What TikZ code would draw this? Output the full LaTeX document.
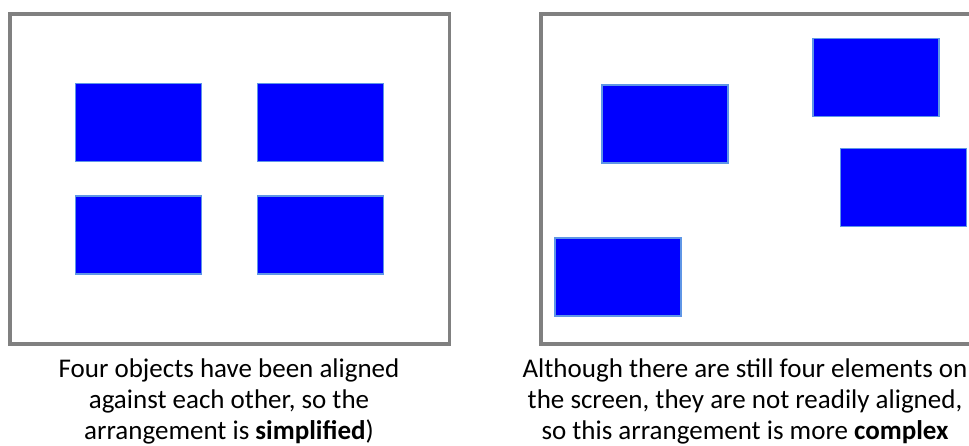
\documentclass[tikz,border=0pt]{standalone}
\usepackage{fontspec}
\setmainfont{Carlito}
\definecolor{frgray}{RGB}{128, 128, 128}
\definecolor{objblue}{RGB}{0, 0, 255}
\definecolor{objedge}{RGB}{95, 150, 230}
\usetikzlibrary{positioning}

\begin{document}
\begin{tikzpicture}[
  x=1pt, y=-1pt,
  frame/.style={draw=frgray, line width=3.5pt},
  blok/.style={draw=objedge, fill=objblue, line width=1.5pt, minimum width=126pt, minimum height=78pt, inner sep=0pt},
  caption/.style={align=center, inner sep=0pt, anchor=north, font=\fontsize{27}{31}\selectfont}
]
  \clip (0, 0) rectangle (969, 446);

  % left screen: aligned objects
  \draw[frame] (10, 14) rectangle (449.5, 344);
  \node[blok] (la) at (138.5, 122.5) {};
  \node[blok] (lb) at (320.5, 122.5) {};
  \node[blok] (lc) at (138.5, 235) {};
  \node[blok] (ld) at (320.5, 235) {};

  % right screen: scattered objects
  \draw[frame] (541, 14) rectangle (1000, 344);
  \node[blok] (ra) at (665, 124) {};
  \node[blok] (rb) at (876, 77.5) {};
  \node[blok] (rc) at (903.5, 187.5) {};
  \node[blok] (rd) at (618, 277) {};

  \node[caption] (lcap) at (229, 358.5) {
    Four objects have been aligned\\
    against each other, so the\\
    arrangement is \textbf{simplified})
  };
  \node[caption] (rcap) at (745, 358.5) {
    Although there are still four elements on\\
    the screen, they are not readily aligned,\\
    so this arrangement is more \textbf{complex}
  };
\end{tikzpicture}
\end{document}
